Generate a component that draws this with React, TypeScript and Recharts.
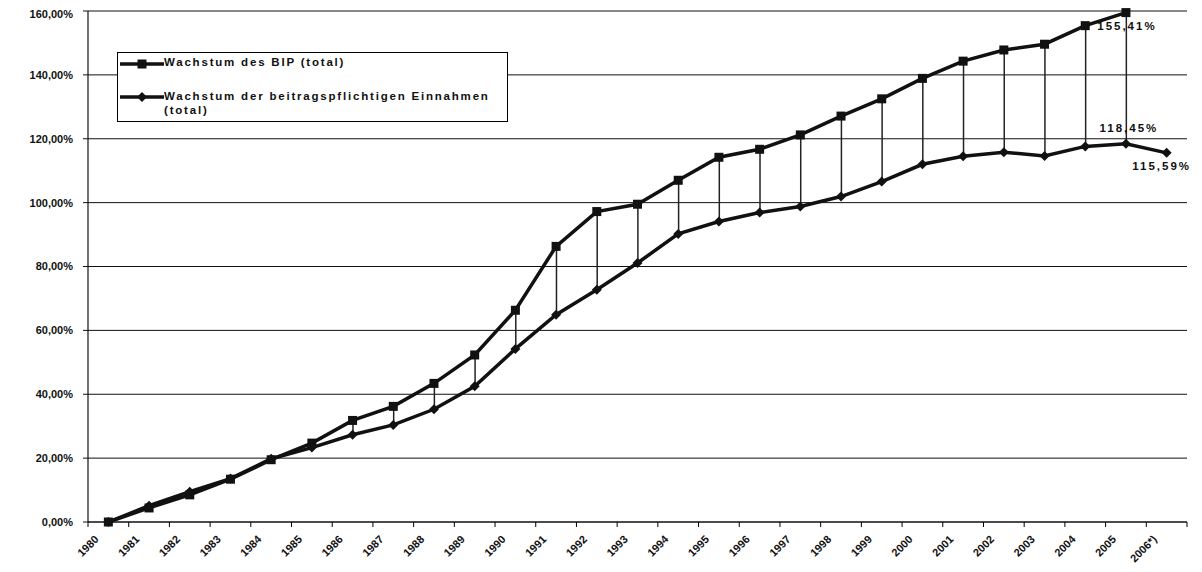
import React from "react";
import { ComposedChart, Line, Bar, XAxis, YAxis, CartesianGrid, Legend, LabelList } from "recharts";

const years = [
  "1980", "1981", "1982", "1983", "1984", "1985", "1986", "1987", "1988", "1989",
  "1990", "1991", "1992", "1993", "1994", "1995", "1996", "1997", "1998", "1999",
  "2000", "2001", "2002", "2003", "2004", "2005", "2006*)",
];

// Wachstum des BIP (total), in %
const bipGrowth = [
  0, 4.4, 8.5, 13.4, 19.5, 24.7, 31.8, 36.2, 43.4, 52.3,
  66.3, 86.3, 97.2, 99.5, 107, 114.2, 116.7, 121.2, 127.1, 132.5,
  138.9, 144.3, 147.8, 149.6, 155.41, 159.5, null,
];

// Wachstum der beitragspflichtigen Einnahmen (total), in %
const einGrowth = [
  0, 5.1, 9.5, 13.6, 19.8, 23.3, 27.3, 30.4, 35.3, 42.5,
  54.2, 64.9, 72.7, 81.1, 90.2, 94.1, 96.9, 98.8, 101.9, 106.6,
  112.0, 114.5, 115.8, 114.6, 117.6, 118.45, 115.59,
];

const yTicks = [0, 20, 40, 60, 80, 100, 120, 140, 160];

const data = years.map((year, i) => ({
  year,
  bip: bipGrowth[i],
  ein: einGrowth[i],
  range: bipGrowth[i] == null ? null : [einGrowth[i], bipGrowth[i]],
}));

const FONT = "'Liberation Sans', Arial, sans-serif";
const W = 1190;
const H = 560;
const M = { top: 3, right: 11, left: 0, bottom: 0 };
const Y_W = 80;
const X_H = 46;
const PLOT_W = W - Y_W - M.right;
const BAND = PLOT_W / years.length;
const AXIS_Y = H - X_H;

const pct = (v: number) => v.toFixed(2).replace(".", ",") + "%";

const SquareDot = (p: any) => {
  if (p.cx == null || p.cy == null || p.value == null) return <g key={p.key} />;
  return <rect key={p.key} x={p.cx - 4.5} y={p.cy - 4.5} width={9} height={9} fill="#111" />;
};

const DiamondDot = (p: any) => {
  if (p.cx == null || p.cy == null) return <g key={p.key} />;
  const { cx, cy } = p;
  return (
    <polygon
      key={p.key}
      points={`${cx},${cy - 5} ${cx + 5},${cy} ${cx},${cy + 5} ${cx - 5},${cy}`}
      fill="#111"
    />
  );
};

const XTick = (p: any) => {
  const { x, payload, index } = p;
  const left = x - BAND / 2;
  return (
    <g>
      <line x1={left} y1={AXIS_Y} x2={left} y2={AXIS_Y + 5} stroke="#000" />
      {index === years.length - 1 && (
        <line x1={x + BAND / 2} y1={AXIS_Y} x2={x + BAND / 2} y2={AXIS_Y + 5} stroke="#000" />
      )}
      <text
        transform={`translate(${x - 9},${AXIS_Y + 18}) rotate(-45)`}
        textAnchor="end"
        fontFamily={FONT}
        fontWeight="bold"
        fontSize={11}
        fill="#111"
      >
        {payload.value}
      </text>
    </g>
  );
};

const labelStyle = { fontFamily: FONT, fontWeight: "bold" as const, fontSize: 11.5, letterSpacing: 2, fill: "#111" };

const BipLabel = (p: any) => {
  if (p.index !== 24) return null;
  return (
    <text x={p.x + 12} y={p.y + 4} {...labelStyle}>
      {pct(p.value)}
    </text>
  );
};

const EinLabel = (p: any) => {
  if (p.index === 25)
    return (
      <text x={p.x + 3} y={p.y - 12} textAnchor="middle" {...labelStyle}>
        {pct(p.value)}
      </text>
    );
  if (p.index === 26)
    return (
      <text x={p.x - 5} y={p.y + 17} textAnchor="middle" {...labelStyle}>
        {pct(p.value)}
      </text>
    );
  return null;
};

const LegendBox = () => (
  <div
    style={{
      position: "relative",
      width: 389,
      height: 68,
      border: "1px solid #000",
      background: "#fff",
      fontFamily: FONT,
      fontWeight: "bold",
      fontSize: 11.5,
      letterSpacing: 1.8,
      color: "#111",
    }}
  >
    <svg width={46} height={20} style={{ position: "absolute", left: 2, top: 1 }}>
      <line x1={0} y1={10} x2={44} y2={10} stroke="#111" strokeWidth={3.5} />
      <rect x={17.5} y={5.5} width={9} height={9} fill="#111" />
    </svg>
    <div style={{ position: "absolute", left: 46, top: 3 }}>Wachstum des BIP (total)</div>
    <svg width={46} height={20} style={{ position: "absolute", left: 2, top: 34 }}>
      <line x1={0} y1={10} x2={44} y2={10} stroke="#111" strokeWidth={3.5} />
      <polygon points="22,5 27,10 22,15 17,10" fill="#111" />
    </svg>
    <div style={{ position: "absolute", left: 46, top: 36, lineHeight: "14px" }}>
      Wachstum der beitragspflichtigen Einnahmen
      <br />
      (total)
    </div>
  </div>
);

export default function App() {
  return (
    <ComposedChart width={W} height={H} data={data} margin={M}>
      <CartesianGrid vertical={false} stroke="#111" strokeWidth={1} />
      <XAxis
        dataKey="year"
        interval={0}
        height={X_H}
        tick={<XTick />}
        tickLine={false}
        axisLine={{ stroke: "#111", strokeWidth: 1.2 }}
      />
      <YAxis
        width={Y_W}
        domain={[0, 160]}
        ticks={yTicks}
        tickFormatter={pct}
        tickSize={5}
        tickMargin={10}
        tickLine={{ stroke: "#111" }}
        axisLine={{ stroke: "#111", strokeWidth: 1.2 }}
        tick={{ fontFamily: FONT, fontWeight: "bold", fontSize: 11, fill: "#111" }}
      />
      <YAxis
        yAxisId="frame"
        orientation="right"
        width={0}
        domain={[0, 160]}
        tick={false}
        tickLine={false}
        axisLine={{ stroke: "#111", strokeWidth: 1.2 }}
      />
      <Legend
        layout="vertical"
        align="center"
        verticalAlign="middle"
        content={<LegendBox />}
        wrapperStyle={{ left: 109, top: 44, width: 391, height: 70 }}
      />
      <Bar dataKey="range" barSize={1.5} fill="#222" isAnimationActive={false} />
      <Line
        dataKey="ein"
        type="linear"
        stroke="#111"
        strokeWidth={3.5}
        dot={DiamondDot}
        activeDot={false}
        isAnimationActive={false}
      >
        <LabelList dataKey="ein" content={EinLabel} />
      </Line>
      <Line
        dataKey="bip"
        type="linear"
        stroke="#111"
        strokeWidth={3.5}
        dot={SquareDot}
        activeDot={false}
        connectNulls={false}
        isAnimationActive={false}
      >
        <LabelList dataKey="bip" content={BipLabel} />
      </Line>
    </ComposedChart>
  );
}
